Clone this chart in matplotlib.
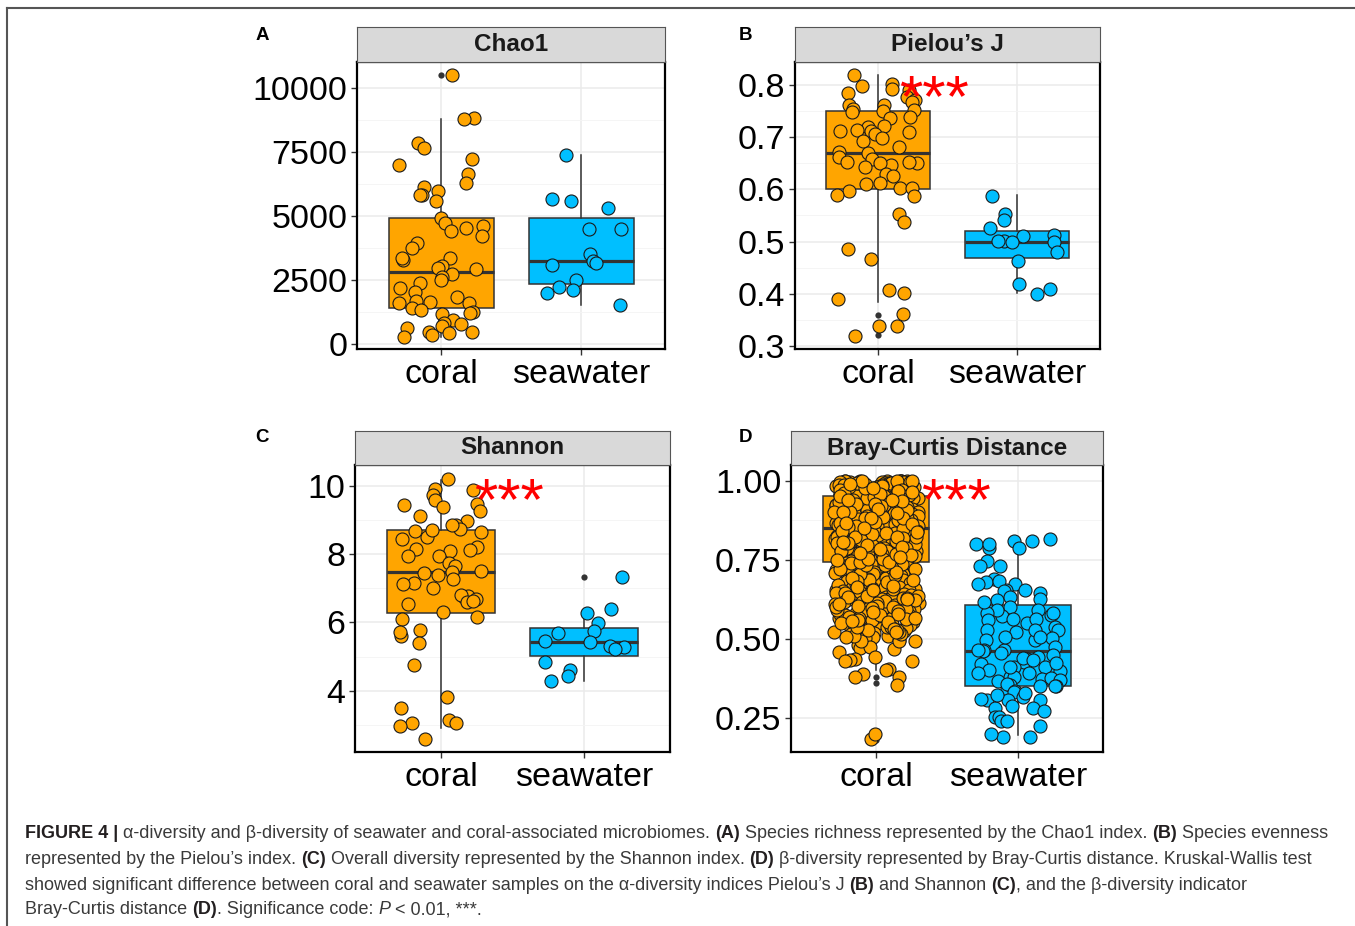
import matplotlib
matplotlib.use("Agg")
import matplotlib.pyplot as plt
from matplotlib.lines import Line2D
import numpy as np

plt.rcParams['font.family'] = ['Liberation Sans', 'DejaVu Sans']

groups = ['coral', 'seawater']
coral_col = '#FFA500'
sea_col = '#00BFFF'

# ---- Chao1 ----
chao_coral = [10500, 8810, 8770, 7860, 7650, 7210, 6970, 6650, 6300, 5960, 6140, 5810,
              5810, 5590, 4930, 4730, 4600, 4520, 4390, 4200, 3940, 3750, 3360, 3260,
              3340, 3060, 2970, 2930, 2740, 2630, 2490, 2390, 2180, 2020, 1840, 1660,
              1630, 1590, 1590, 1410, 1330, 1260, 1150, 1190, 950, 780, 610, 820, 690,
              470, 470, 430, 270, 350]
chao_sea = [7370, 5660, 5310, 5570, 4500, 4500, 3530, 3230, 3160, 3100, 2490, 2220,
            2090, 1980, 1530]
# q1, median, q3, lower whisker, upper whisker
chao_coral_box = [1410, 2800, 4930, 270, 8800]
chao_sea_box = [2320, 3230, 4900, 1530, 7370]
chao_coral_out = [10500]
chao_sea_out = []

# ---- Pielou's J ----
pielou_coral = [0.820, 0.802, 0.798, 0.790, 0.792, 0.785, 0.777, 0.771, 0.767, 0.761,
                0.761, 0.753, 0.752, 0.751, 0.748, 0.739, 0.737, 0.721, 0.719, 0.711,
                0.713, 0.712, 0.709, 0.706, 0.698, 0.693, 0.681, 0.672, 0.670, 0.661,
                0.652, 0.651, 0.647, 0.658, 0.651, 0.652, 0.642, 0.630, 0.626, 0.610,
                0.612, 0.602, 0.602, 0.597, 0.587, 0.589, 0.552, 0.538, 0.486, 0.467,
                0.402, 0.389, 0.408, 0.361, 0.338, 0.338, 0.319]
pielou_sea = [0.588, 0.552, 0.526, 0.541, 0.513, 0.510, 0.501, 0.501, 0.500, 0.499,
              0.479, 0.463, 0.419, 0.409, 0.400]
pielou_coral_box = [0.600, 0.670, 0.750, 0.385, 0.820]
pielou_sea_box = [0.469, 0.500, 0.520, 0.401, 0.589]
pielou_coral_out = [0.360, 0.340, 0.320]
pielou_sea_out = []

# ---- Shannon ----
shannon_coral = [10.21, 9.91, 9.88, 9.74, 9.47, 9.46, 9.58, 9.38, 9.28, 9.12, 8.98, 8.85,
                 8.75, 8.87, 8.66, 8.52, 8.70, 8.68, 8.45, 8.16, 8.22, 8.13, 7.96, 8.10,
                 7.96, 7.74, 7.67, 7.44, 7.50, 7.38, 7.47, 7.28, 7.15, 7.13, 7.00, 6.74,
                 6.79, 6.80, 6.55, 6.70, 6.60, 6.64, 6.30, 6.17, 6.11, 5.59, 5.72, 5.77,
                 5.41, 4.75, 3.80, 3.50, 3.14, 3.06, 3.06, 2.97, 2.57]
shannon_sea = [7.33, 6.27, 6.41, 5.97, 5.75, 5.70, 5.44, 5.46, 5.31, 5.29, 5.23, 4.83,
               4.62, 4.44, 4.29]
shannon_coral_box = [6.28, 7.47, 8.70, 2.90, 10.19]
shannon_sea_box = [5.03, 5.44, 5.85, 4.29, 6.38]
shannon_coral_out = []
shannon_sea_out = [7.33]

# ---- Bray-Curtis (thousandths) ----
bc_coral_k = [1000, 999, 998, 998, 997, 996, 996, 995, 994, 994, 993, 992, 991, 991, 990,
              989, 988, 988, 987, 986, 985, 984, 983, 983, 982, 981, 979, 978, 977, 976,
              975, 973, 972, 971, 970, 968, 967, 966, 964, 963, 962, 960, 959, 958, 956,
              955, 954, 953, 951, 950, 999, 997, 995, 993, 990, 987, 984, 980, 976, 972,
              968, 964, 960, 957, 953, 999, 996, 992, 989, 985, 981, 974, 969, 961, 952,
              998, 994, 986, 979, 971,
              949, 947, 946, 944, 942, 941, 938, 937, 935, 934, 932, 930, 929, 927, 925,
              924, 921, 920, 918, 917, 914, 913, 911, 909, 908, 905, 904, 902, 900, 898,
              897, 895, 892, 891, 889, 887, 886, 884, 881, 880, 878, 876, 875, 873, 870,
              869, 867, 865, 864, 861, 860, 858, 856, 855, 853, 851, 945, 939, 931, 923,
              915, 906, 894, 883, 872, 862, 943, 926, 903, 877, 857, 936, 912, 888, 866,
              848, 846, 845, 843, 841, 839, 838, 836, 833, 832, 830, 828, 826, 825, 822,
              820, 819, 817, 815, 812, 811, 809, 806, 805, 803, 800, 799, 797, 794, 793,
              791, 788, 787, 785, 783, 780, 779, 777, 774, 773, 771, 768, 767, 765, 762,
              760, 758, 756, 753, 752, 750, 747, 746, 744, 742, 834, 816, 798, 781, 763,
              745, 827, 808, 789, 770, 749, 842, 821, 796, 776, 755,
              739, 736, 733, 731, 728, 726, 723, 720, 718, 715, 713, 709, 707, 704, 702,
              698, 696, 693, 690, 688, 685, 682, 679, 677, 674, 671, 668, 666, 663, 660,
              657, 655, 652, 649, 646, 643, 640, 637, 634, 631, 627, 624, 620, 617, 613,
              610, 606, 602, 598, 594, 589, 585, 580, 576, 571, 566, 561, 556, 551, 546,
              541, 535, 530, 524, 518, 512, 506, 501, 729, 711, 694, 676, 659, 641, 622,
              604, 586, 567, 548, 528, 509, 716, 681, 645, 607, 573, 538, 515,
              493, 479, 472, 436, 457, 475, 496, 466, 433, 431, 493, 493, 443, 430, 403,
              401, 380, 355, 389, 380, 183, 200]
bc_coral_k2 = [738, 735, 732, 730, 727, 725, 722, 719, 717, 714, 712, 710, 708, 705, 703,
               700, 697, 695, 692, 689, 687, 684, 681, 678, 675, 673, 670, 667, 665, 662,
               659, 656, 653, 650, 648, 645, 642, 639, 636, 633, 630, 628, 625, 622, 619,
               616, 612, 609, 605, 601, 597, 593, 588, 584, 579, 574, 569, 564, 559, 553,
               548, 543, 538, 533, 527, 521, 516, 510, 504, 737, 724, 711, 699, 686, 672,
               658, 644, 630, 616, 603, 590, 576, 563, 549, 536, 521, 734, 706, 680, 654,
               628, 603, 578, 553, 528, 733, 701, 667, 635, 600, 566, 532, 740, 712, 683,
               654, 626, 596, 560, 741, 719, 691, 662, 632, 611, 583, 557, 520,
               997, 991, 985, 978, 970, 962, 955, 948, 940, 932, 924, 916, 908, 899, 891,
               882, 874, 865, 856, 848, 839, 830, 822, 813, 804, 795, 786, 778, 769, 760,
               751, 743, 995, 982, 966, 951, 936, 919, 902, 885, 868, 852, 835, 818, 801,
               784, 767, 752, 993, 975, 957, 938, 919, 900, 880, 861, 842, 823, 804, 786,
               766, 748, 998, 988, 977, 965, 952, 939, 925, 911, 896, 881, 866, 851, 836,
               820, 805, 789, 772, 758]
bc_sea = [0.798, 0.815, 0.787, 0.808, 0.808, 0.787, 0.800, 0.745, 0.729, 0.729, 0.690,
          0.678, 0.674, 0.653, 0.653, 0.682, 0.674, 0.650, 0.643, 0.621, 0.632, 0.625,
          0.601, 0.575, 0.582, 0.571, 0.592, 0.590, 0.582, 0.562, 0.550, 0.538, 0.559,
          0.562, 0.521, 0.526, 0.529, 0.496, 0.496, 0.503, 0.464, 0.462, 0.464, 0.475,
          0.464, 0.449, 0.435, 0.419, 0.428, 0.412, 0.440, 0.441, 0.433, 0.399, 0.401,
          0.412, 0.378, 0.374, 0.375, 0.368, 0.365, 0.380, 0.422, 0.351, 0.340, 0.349,
          0.354, 0.358, 0.350, 0.336, 0.333, 0.307, 0.288, 0.305, 0.309, 0.307, 0.317,
          0.280, 0.272, 0.280, 0.254, 0.252, 0.241, 0.223, 0.241, 0.189, 0.189, 0.200,
          0.617, 0.527, 0.506, 0.454, 0.391, 0.391, 0.412, 0.328, 0.322, 0.506]
bc_coral = [v / 1000 for v in bc_coral_k + bc_coral_k2]
bc_coral_box = [0.741, 0.851, 0.950, 0.400, 1.000]
bc_sea_box = [0.351, 0.462, 0.605, 0.196, 0.811]
bc_coral_out = [0.380, 0.359, 0.200, 0.179]
bc_sea_out = []

W, H = 1355, 926
fig = plt.figure(figsize=(W / 100, H / 100), dpi=100)
rng = np.random.default_rng(7)


def px_rect(x0, y0, x1, y1):
    return [x0 / W, 1 - y1 / H, (x1 - x0) / W, (y1 - y0) / H]


def bstats(b, out):
    return dict(q1=b[0], med=b[1], q3=b[2], whislo=b[3], whishi=b[4], fliers=out)


def panel(box, strip_h, title, label, lab_xy, coral, sea, cbox, sbox, cout, sout,
          yticks, yticklabels, yminor, ylim, star=None):
    x0, y0, x1, y1 = box
    ax = fig.add_axes(px_rect(x0, y0, x1, y1))
    ax.set_facecolor('white')
    ax.set_xlim(0.4, 2.6)
    ax.set_ylim(*ylim)
    ax.set_yticks(yticks)
    ax.set_yticklabels(yticklabels)
    ax.set_yticks(yminor, minor=True)
    ax.set_xticks([1, 2])
    ax.set_xticklabels(groups)
    ax.grid(True, which='major', color='#EBEBEB', lw=1.1, zorder=0)
    ax.grid(True, which='minor', axis='y', color='#F4F4F4', lw=0.6, zorder=0)
    ax.set_axisbelow(True)
    ax.tick_params(which='major', labelsize=24.5, length=4, width=1, color='#333333',
                   labelcolor='black', pad=3)
    ax.tick_params(which='minor', length=0)
    for s in ax.spines.values():
        s.set_color('black')
        s.set_linewidth(1.6)

    for pos, st, col in ((1, bstats(cbox, cout), coral_col), (2, bstats(sbox, sout), sea_col)):
        ax.bxp([st], positions=[pos], widths=0.75, patch_artist=True, showcaps=False,
               boxprops=dict(facecolor=col, edgecolor='#333333', lw=1.1),
               medianprops=dict(color='#333333', lw=2.3),
               whiskerprops=dict(color='#333333', lw=1.1),
               flierprops=dict(marker='o', markersize=4.5, markerfacecolor='#333333',
                               markeredgecolor='none'),
               manage_ticks=False, zorder=2)

    for pos, vals, col in ((1, coral, coral_col), (2, sea, sea_col)):
        xs = pos + rng.uniform(-0.3, 0.3, len(vals))
        ax.scatter(xs, vals, s=88, c=col, edgecolors='#1a1a1a', linewidths=0.8, zorder=3)

    if star is not None:
        ax.annotate('***', xy=star, xytext=(0, -33), textcoords='offset pixels',
                    ha='center', va='baseline', color='#FF0000', fontsize=43, zorder=4)

    sax = fig.add_axes(px_rect(x0, y0 - strip_h, x1, y0))
    sax.set_facecolor('#D9D9D9')
    sax.set_xticks([])
    sax.set_yticks([])
    for s in sax.spines.values():
        s.set_color('#555555')
        s.set_linewidth(0.8)
    sax.text(0.5, 0.5, title, transform=sax.transAxes, ha='center', va='center',
             fontsize=17.5, fontweight='bold', color='#1a1a1a')

    fig.text(lab_xy[0] / W, 1 - lab_xy[1] / H, label, ha='center', va='center',
             fontsize=13.5, fontweight='bold')
    return ax


panel((357, 62, 665, 349), 35, 'Chao1', 'A', (262, 35), chao_coral, chao_sea,
      chao_coral_box, chao_sea_box, chao_coral_out, chao_sea_out,
      [0, 2500, 5000, 7500, 10000], ['0', '2500', '5000', '7500', '10000'],
      [1250, 3750, 6250, 8750], (-200, 11010))

panel((795, 62, 1100, 349), 35, 'Pielou\u2019s J', 'B', (746, 35), pielou_coral, pielou_sea,
      pielou_coral_box, pielou_sea_box, pielou_coral_out, pielou_sea_out,
      [0.3, 0.4, 0.5, 0.6, 0.7, 0.8], ['0.3', '0.4', '0.5', '0.6', '0.7', '0.8'],
      [0.35, 0.45, 0.55, 0.65, 0.75], (0.294, 0.844), star=(1.40, 0.803))

panel((355, 465, 670, 752), 34, 'Shannon', 'C', (262, 438), shannon_coral, shannon_sea,
      shannon_coral_box, shannon_sea_box, shannon_coral_out, shannon_sea_out,
      [4, 6, 8, 10], ['4', '6', '8', '10'], [3, 5, 7, 9], (2.2, 10.62), star=(1.477, 10.0))

panel((791, 465, 1103, 752), 34, 'Bray-Curtis Distance', 'D', (746, 438), bc_coral, bc_sea,
      bc_coral_box, bc_sea_box, bc_coral_out, bc_sea_out,
      [0.25, 0.5, 0.75, 1.0], ['0.25', '0.50', '0.75', '1.00'],
      [0.375, 0.625, 0.875], (0.142, 1.049), star=(1.56, 0.983))

# frame lines (top and left)
fig.add_artist(Line2D([7 / W, 1], [1 - 8 / H, 1 - 8 / H], transform=fig.transFigure,
                      color='#555555', lw=1.5))
fig.add_artist(Line2D([7 / W, 7 / W], [1 - 8 / H, 0], transform=fig.transFigure,
                      color='#555555', lw=1.5))

# caption
cap_lines = [
    [('FIGURE 4 | ', 'b'), ('\u03b1-diversity and \u03b2-diversity of seawater and coral-associated microbiomes. ', 'r'),
     ('(A)', 'b'), (' Species richness represented by the Chao1 index. ', 'r'), ('(B)', 'b'),
     (' Species evenness', 'r')],
    [('represented by the Pielou\u2019s index. ', 'r'), ('(C)', 'b'),
     (' Overall diversity represented by the Shannon index. ', 'r'), ('(D)', 'b'),
     (' \u03b2-diversity represented by Bray-Curtis distance. Kruskal-Wallis test', 'r')],
    [('showed significant difference between coral and seawater samples on the \u03b1-diversity indices Pielou\u2019s J ', 'r'),
     ('(B)', 'b'), (' and Shannon ', 'r'), ('(C)', 'b'), (', and the \u03b2-diversity indicator', 'r')],
    [('Bray-Curtis distance ', 'r'), ('(D)', 'b'), ('. Significance code: ', 'r'), ('P', 'i'),
     (' < 0.01, ***.', 'r')],
]
cap_y = [833, 859, 885, 910]
cap_size = 13.0
renderer = fig.canvas.get_renderer()


def advance(s, style):
    kw = dict(fontsize=cap_size, fontweight='bold' if style == 'b' else 'normal',
              fontstyle='italic' if style == 'i' else 'normal')
    t1 = fig.text(0, 0, '|' + s + '|', **kw)
    t2 = fig.text(0, 0, '||', **kw)
    w = t1.get_window_extent(renderer).width - t2.get_window_extent(renderer).width
    t1.remove()
    t2.remove()
    return w, kw


for line, yy in zip(cap_lines, cap_y):
    x = 25.0
    for s, style in line:
        w, kw = advance(s, style)
        fig.text(x / W, 1 - yy / H, s, va='center', ha='left',
                 color='#231f20' if style == 'b' else '#3a3a3a', **kw)
        x += w

fig.savefig('out.png', dpi=100)
